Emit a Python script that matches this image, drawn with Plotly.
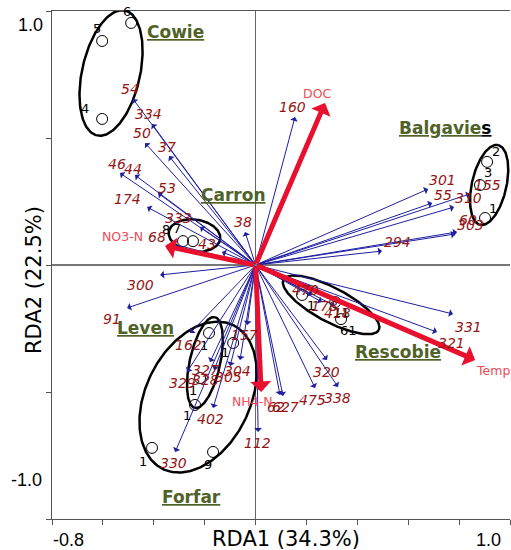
import numpy as np
import plotly.graph_objects as go

# ---- species scores (RDA1, RDA2) ----
species = ["54", "334", "50", "37", "46", "44", "53", "174", "333", "38", "43", "68",
           "300", "91", "160", "301", "55", "310", "155", "60", "303", "294", "470",
           "178", "418", "331", "321", "320", "475", "338", "62", "627", "112", "157",
           "162", "327", "304", "305", "328", "329", "402", "330"]
species_x = [-0.482, -0.407, -0.434, -0.340, -0.533, -0.474, -0.383, -0.426, -0.218,
             -0.041, -0.132, -0.328, -0.375, -0.505, 0.155, 0.678, 0.694, 0.780, 0.843,
             0.792, 0.784, 0.497, 0.222, 0.261, 0.312, 0.776, 0.713, 0.281, 0.234, 0.324,
             0.096, 0.108, 0.010, -0.033, -0.257, -0.179, -0.061, -0.100, -0.163, -0.269,
             -0.167, -0.316]
species_y = [0.654, 0.555, 0.480, 0.429, 0.362, 0.354, 0.283, 0.228, 0.150, 0.130,
             0.051, 0.083, -0.039, -0.169, 0.583, 0.299, 0.244, 0.228, 0.280, 0.130,
             0.122, 0.055, -0.118, -0.146, -0.161, -0.193, -0.264, -0.374, -0.484,
             -0.480, -0.512, -0.516, -0.657, -0.236, -0.268, -0.382, -0.374, -0.398,
             -0.413, -0.421, -0.563, -0.736]

# ---- environmental variables ----
env_names = ["DOC", "NO3-N", "Temp", "NH4-N"]
env_x = [0.273, -0.356, 0.863, 0.022]
env_y = [0.638, 0.075, -0.374, -0.500]

# ---- samples ----
sample_lake = (["Cowie"] * 3 + ["Balgavies"] * 3 + ["Carron"] * 2 + ["Leven"] * 3
               + ["Forfar"] * 3 + ["Rescobie"] * 3)
sample_id = ["6", "5", "4", "2", "3", "1", "8", "7", "1", "1", "1", "1", "1", "9",
             "1", "11", "61"]
sample_x = [-0.489, -0.603, -0.603, 0.910, 0.882, 0.902, -0.285, -0.246, -0.183,
            -0.218, -0.238, -0.088, -0.407, -0.167, 0.183, 0.313, 0.336]
sample_y = [0.953, 0.882, 0.575, 0.406, 0.315, 0.185, 0.094, 0.094, -0.268, -0.445,
            -0.551, -0.307, -0.720, -0.736, -0.118, -0.146, -0.213]

# ---- lake envelopes: centre, semi-axes, rotation (deg) ----
lakes = ["Cowie", "Balgavies", "Carron", "Leven", "Forfar", "Rescobie"]
lake_cx = [-0.568, 0.918, -0.240, -0.199, -0.226, 0.297]
lake_cy = [0.756, 0.315, 0.116, -0.384, -0.520, -0.157]
lake_a = [0.252, 0.161, 0.102, 0.183, 0.315, 0.212]
lake_b = [0.114, 0.068, 0.063, 0.060, 0.205, 0.067]
lake_angle = [77.4, 77.3, -8.0, 77.6, 64.0, -28.0]

# ---- styling ----
SPECIES_COLOR = "#1F1FA0"
SPECIES_TEXT = "#931515"
ENV_COLOR = "#E8102E"
ENV_TEXT = "#EE4B55"
LAKE_TEXT = "#4F6228"

# label offsets in pixels (right, down)
species_offset = {
    "54": (-3, -10), "334": (-4, -10), "50": (-3, -10), "37": (-2, -9), "46": (-3, -9),
    "44": (-2, -6), "53": (9, -5), "174": (-20, -8), "333": (-22, -9), "38": (-2, -10),
    "43": (-15, -8), "68": (-15, -7), "300": (-20, 10), "91": (-15, 11), "160": (-2, -10),
    "301": (14, -9), "55": (11, -8), "310": (14, -9), "155": (17, -9), "60": (11, -12),
    "303": (15, -9), "294": (15, -9), "470": (-7, -5), "178": (3, 4), "418": (3, 7),
    "331": (15, 13), "321": (15, 11), "320": (-1, 12), "475": (-3, 12), "338": (-1, 11),
    "62": (-4, 12), "627": (2, 11), "112": (-1, 11), "157": (-3, 10), "162": (-2, 12),
    "327": (-5, 8), "304": (-3, 11), "305": (-2, 11), "328": (-9, 10), "329": (-5, 11),
    "402": (-3, 11), "330": (-2, 11),
}
env_offset = {"DOC": (-8, -9), "NO3-N": (-42, -9), "Temp": (18, 10), "NH4-N": (-9, 9)}
sample_offset = [(-4, -11), (-5, -12), (-17, -10), (9, -10), (8, -12), (8, -10),
                 (-17, -12), (-16, -13), (-5, 12), (-7, 12), (-8, 11), (-8, 10),
                 (-9, 14), (-5, 13), (9, 11), (6, 10), (7, 11)]
lake_label_pos = {
    "Cowie": (-0.316, 0.917), "Balgavies": (0.745, 0.539), "Carron": (-0.088, 0.276),
    "Leven": (-0.434, -0.248), "Rescobie": (0.560, -0.343), "Forfar": (-0.250, -0.913),
}

fig = go.Figure()

# envelopes
t = np.linspace(0, 2 * np.pi, 240)
for name, cx, cy, a, b, ang in zip(lakes, lake_cx, lake_cy, lake_a, lake_b, lake_angle):
    th = np.deg2rad(ang)
    ex = cx + a * np.cos(t) * np.cos(th) - b * np.sin(t) * np.sin(th)
    ey = cy + a * np.cos(t) * np.sin(th) + b * np.sin(t) * np.cos(th)
    fig.add_trace(go.Scatter(x=ex, y=ey, mode="lines", name=name,
                             line=dict(color="black", width=2.5),
                             hoverinfo="skip", showlegend=False))

# sample points
fig.add_trace(go.Scatter(x=sample_x, y=sample_y, mode="markers",
                         marker=dict(symbol="circle-open", size=11,
                                     line=dict(color="black", width=1), color="black"),
                         text=sample_lake, showlegend=False))

ann = []
# species arrows
for sx, sy in zip(species_x, species_y):
    ann.append(dict(x=sx, y=sy, ax=0, ay=0, xref="x", yref="y", axref="x", ayref="y",
                    text="", showarrow=True, arrowhead=1, arrowsize=1.3, arrowwidth=1,
                    arrowcolor=SPECIES_COLOR, standoff=0))
# environmental arrows
for ex_, ey_ in zip(env_x, env_y):
    ann.append(dict(x=ex_, y=ey_, ax=0, ay=0, xref="x", yref="y", axref="x", ayref="y",
                    text="", showarrow=True, arrowhead=1, arrowsize=0.7, arrowwidth=5,
                    arrowcolor=ENV_COLOR, standoff=0))
# sample labels
for sid, sx, sy, (dx, dy) in zip(sample_id, sample_x, sample_y, sample_offset):
    ann.append(dict(x=sx, y=sy, xref="x", yref="y", text=sid, showarrow=False,
                    xshift=dx, yshift=-dy,
                    font=dict(family="DejaVu Sans", size=13, color="black")))
# species labels
for name, sx, sy in zip(species, species_x, species_y):
    dx, dy = species_offset[name]
    ann.append(dict(x=sx, y=sy, xref="x", yref="y", text=name, showarrow=False,
                    xshift=dx, yshift=-dy,
                    font=dict(family="DejaVu Sans", size=14, color=SPECIES_TEXT,
                              style="italic")))
# environmental labels
for name, ex_, ey_ in zip(env_names, env_x, env_y):
    dx, dy = env_offset[name]
    ann.append(dict(x=ex_, y=ey_, xref="x", yref="y", text=name, showarrow=False,
                    xshift=dx, yshift=-dy,
                    font=dict(family="DejaVu Sans", size=12.5, color=ENV_TEXT)))
# lake names
for name in lakes:
    lx, ly = lake_label_pos[name]
    if name == "Balgavies":
        txt = "<u>Balgavie</u><span style='color:black'><u>s</u></span>"
    else:
        txt = "<u>" + name + "</u>"
    ann.append(dict(x=lx, y=ly, xref="x", yref="y", text="<b>" + txt + "</b>",
                    showarrow=False,
                    font=dict(family="DejaVu Sans", size=17, color=LAKE_TEXT)))

# axis end labels and titles (paper coordinates)
tick_font = dict(family="Liberation Sans", size=18, color="black")
for txt, tx, ty in [("1.0", -0.048, 0.972), ("-1.0", -0.0546, 0.0768),
                    ("-0.8", 0.0371, -0.0413), ("1.0", 0.952, -0.0413)]:
    ann.append(dict(x=tx, y=ty, xref="paper", yref="paper", text=txt, showarrow=False,
                    xanchor="center", yanchor="middle", font=tick_font))
title_font = dict(family="DejaVu Sans", size=21, color="black")
ann.append(dict(x=0.511, y=-0.0394, xref="paper", yref="paper", text="RDA1 (34.3%)",
                showarrow=False, xanchor="center", yanchor="middle", borderpad=0,
                font=title_font))
ann.append(dict(x=-0.0393, y=0.4705, xref="paper", yref="paper", text="RDA2 (22.5%)",
                showarrow=False, textangle=-90, xanchor="center", yanchor="middle",
                borderpad=0, font=title_font))

fig.update_layout(
    width=511, height=550,
    margin=dict(l=52, r=1, t=11, b=31),
    plot_bgcolor="white", paper_bgcolor="white",
    showlegend=False,
    annotations=ann,
    xaxis=dict(range=[-0.8, 1.0], tickvals=[round(v, 1) for v in np.arange(-0.8, 1.01, 0.2)],
               showticklabels=False, ticks="outside", ticklen=5, tickcolor="#555",
               showline=True, linecolor="#555", linewidth=1, mirror=True,
               showgrid=False, zeroline=True, zerolinecolor="#666", zerolinewidth=1),
    yaxis=dict(range=[-1.0, 1.0], tickvals=[-1.0, -0.5, 0.0, 0.5, 1.0],
               showticklabels=False, ticks="outside", ticklen=5, tickcolor="#555",
               showline=True, linecolor="#555", linewidth=1,
               showgrid=False, zeroline=True, zerolinecolor="#777", zerolinewidth=1.5),
)

fig.write_html("out.html")
